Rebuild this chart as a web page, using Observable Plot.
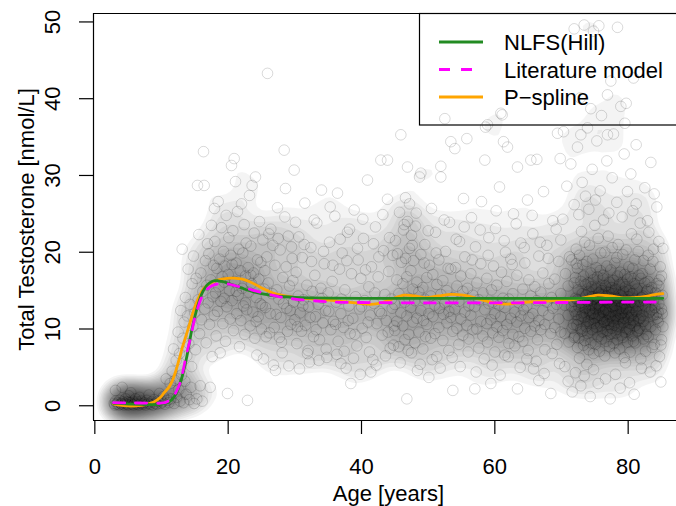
<!DOCTYPE html>
<html><head><meta charset="utf-8">
<script src="https://cdn.jsdelivr.net/npm/d3@7"></script>
<script src="https://cdn.jsdelivr.net/npm/@observablehq/plot@0.6"></script>
<style>
body{margin:0;background:#fff;}
#wrap{position:relative;width:676px;height:506px;font-family:"Liberation Sans",Arial,Helvetica,sans-serif;}
#wrap svg{display:block;}
</style></head><body><div id="wrap"></div>
<script>
// ---- axis ticks / labels ----
const xTicks = [0, 20, 40, 60, 80];
const yTicks = [0, 10, 20, 30, 40, 50];
const xTitle = "Age [years]";
const yTitle = "Total Testosterone [nmol/L]";
const seriesNames = ["NLFS(Hill)", "Literature model", "P\u2212spline"];
const seriesColors = ["#228B22", "#FF00FF", "#FFA500"];

// ---- fitted curves ----
const hillAge = [2.8,4,5.5,7,9,10,10.5,11,11.5,12,12.5,13,13.5,14,14.5,15,15.5,16,16.5,17,17.5,18,18.5,19,19.5,20,21,22,23,24,25,26,27,28.5,30,32,35,40,50,60,70,80,85.2];
const hillTT  = [0.33,0.28,0.2,0.17,0.16,0.22,0.3,0.45,0.75,1.3,2.2,3.5,5.2,7.3,9.7,11.6,13.2,14.5,15.3,15.85,16.15,16.3,16.28,16.2,16.1,15.95,15.65,15.35,15.05,14.8,14.6,14.45,14.32,14.2,14.12,14.06,14.02,14.0,14.0,14.0,14.0,14.0,14.0];
const litAge = [2.8,5,8,9.8,10.5,11,11.6,12.2,12.85,13.2,13.6,14,14.35,14.7,15.1,15.5,15.85,16.35,16.85,17.5,18.35,19.2,20.1,21.2,22.35,23.5,25,27.4,30,33.4,36,40,50,60,70,80,85.2];
const litTT  = [0.4,0.37,0.35,0.33,0.4,0.6,0.95,1.8,3.1,4.4,6.1,7.6,8.8,10.3,11.8,12.9,13.8,14.6,15.2,15.6,15.85,15.9,15.85,15.6,15.4,15.1,14.75,14.25,13.9,13.65,13.5,13.45,13.4,13.4,13.45,13.5,13.5];
const splAge = [2.8,4,5.5,7,8,8.85,9.85,10.4,11.1,11.6,12.1,12.6,13.1,13.6,14.1,14.6,15.1,15.7,16.35,17.1,17.85,18.8,19.85,20.8,21.6,22.5,23.4,24.5,25.9,27,28.5,30,32,34.4,36,38,40,41.4,43,44.5,46.4,48,49.4,51.5,53.4,55.3,56.9,58.5,60.4,62,63.4,65.5,67.9,69.5,71.5,73.5,75.4,77.3,79.35,81,82.35,83.8,85.2];
const splTT  = [0.25,0.05,-0.05,0.05,0.25,0.5,1.1,1.7,2.4,3.2,4.4,5.9,7.5,8.9,10.3,11.8,13.1,14.3,15.3,15.85,16.2,16.45,16.6,16.62,16.55,16.4,16.1,15.6,15.0,14.6,14.3,14.1,13.95,13.8,13.7,13.5,13.3,13.2,13.4,13.9,14.4,14.3,14.1,14.3,14.5,14.4,14.1,13.7,13.3,13.25,13.4,13.55,13.65,13.75,13.8,14.1,14.4,14.3,14.05,14.1,14.2,14.45,14.6];

const kidsPts = [[2.9,0.3],[3.0,0.1],[3.1,0.6],[3.1,2.0],[3.3,0.2],[3.4,0.4],[3.6,0.1],[3.7,0.7],[3.9,0.3],[4.0,0.2],[4.1,2.4],[4.2,0.5],[4.4,0.1],[4.5,0.3],[4.6,0.9],[4.8,0.2],[4.9,0.5],[5.0,0.1],[5.1,1.3],[5.3,0.4],[5.4,1.7],[5.5,0.2],[5.7,0.6],[5.8,0.1],[6.0,0.3],[6.1,0.9],[6.3,0.2],[6.4,0.5],[6.6,0.1],[6.7,1.1],[6.9,0.3],[7.0,0.6],[7.2,0.2],[7.4,0.4],[7.6,0.1],[7.8,0.7],[8.0,0.3],[8.1,1.4],[8.3,0.2],[8.5,0.5],[8.7,0.1],[8.9,0.8],[9.1,0.3],[9.3,0.2],[9.5,0.6],[9.7,1.6],[9.9,0.3],[10.1,0.5],[10.3,1.2],[10.5,0.2],[10.7,3.5],[10.9,0.7]];
const teenPts = [[11.1,0.4],[11.3,2.9],[11.4,0.9],[11.6,4.5],[11.8,7.4],[11.9,0.3],[12.0,3.3],[12.2,5.9],[12.3,1.1],[12.4,3.5],[12.5,9.6],[12.6,2.1],[12.7,6.8],[12.8,0.6],[12.9,12.4],[13.0,4.0],[13.1,20.4],[13.2,8.8],[13.3,0.4],[13.4,10.9],[13.5,3.2],[13.6,14.1],[13.7,1.5],[13.8,6.5],[13.9,11.7],[14.0,17.8],[14.1,8.1],[14.2,0.8],[14.3,13.2],[14.4,2.4],[14.5,5.1],[14.6,15.9],[14.7,10.3],[14.8,19.5],[14.9,0.3],[15.0,12.1],[15.1,7.3],[15.2,16.6],[15.3,0.9],[15.4,28.7],[15.5,13.8],[15.6,22.3],[15.7,9.4],[15.8,2.6],[15.9,17.3],[16.0,11.2],[16.1,0.6],[16.2,14.9],[16.3,33.1],[16.4,28.7],[16.5,12.6],[16.6,18.9],[16.7,8.2],[16.8,15.7],[16.9,21.1],[17.0,13.4],[17.1,19.8],[17.2,10.6],[17.3,2.4],[17.4,16.4],[17.5,23.5],[17.6,6.4],[17.7,14.2],[17.8,18.3],[17.9,11.8],[17.95,25.7]];
const youngPts = [[18.0,21.4],[18.1,14.7],[18.2,9.1],[18.3,17.9],[18.4,12.3],[18.5,26.6],[18.6,15.5],[18.7,19.1],[18.8,6.9],[18.9,13.6],[19.0,23.2],[19.1,16.8],[19.2,10.7],[19.3,20.1],[19.4,14.0],[19.4,16.1],[19.5,18.2],[19.6,8.4],[19.7,24.8],[19.8,12.9],[19.9,1.6],[20.0,17.1],[20.1,21.9],[20.2,15.0],[20.3,11.3],[20.4,19.6],[20.5,31.3],[20.6,13.7],[20.6,18.4],[20.7,22.8],[20.8,9.8],[20.9,32.2],[21.0,16.2],[21.1,29.2],[21.2,18.6],[21.2,14.9],[21.3,12.0],[21.4,25.3],[21.5,14.4],[21.6,20.4],[21.7,7.7],[21.8,17.6],[21.9,11.1],[22.0,26.3],[22.1,15.3],[22.2,19.9],[22.3,13.0],[22.4,23.6],[22.5,9.3],[22.6,16.9],[22.6,13.4],[22.7,21.2],[22.8,12.5],[22.9,0.7],[23.0,18.0],[23.1,14.8],[23.2,27.4],[23.3,10.4],[23.4,20.8],[23.4,17.0],[23.5,15.9],[23.6,28.7],[23.7,12.2],[23.8,17.3],[23.9,22.5],[24.0,8.8],[24.1,29.8],[24.2,14.1],[24.2,11.0],[24.3,6.6],[24.4,19.0],[24.5,11.6],[24.6,16.5],[24.7,24.0],[24.8,13.3],[24.9,18.7],[25.0,10.0],[25.1,13.1],[25.2,21.6],[25.4,15.2],[25.5,17.6],[25.6,12.8],[25.7,9.0],[25.8,19.4],[25.9,43.3],[26.0,16.0],[26.2,9.5],[26.3,12.0],[26.4,23.0],[26.6,14.6],[26.7,20.9],[26.8,5.3],[26.9,10.2],[27.0,18.3],[27.2,11.9],[27.3,15.1],[27.4,25.8],[27.6,13.9],[27.7,8.9],[27.8,20.3],[27.9,11.5],[28.0,8.3],[28.2,16.7],[28.3,13.3],[28.4,33.3],[28.6,28.3],[28.7,18.1],[28.8,12.7],[28.9,9.7],[29.0,22.1],[29.2,15.6],[29.3,12.4],[29.4,10.6],[29.6,19.2],[29.7,16.3],[29.8,13.5],[29.9,30.7]];
const midPts = [[30.0,11.2],[30.2,17.4],[30.3,8.1],[30.4,10.3],[30.5,14.3],[30.6,22.0],[30.8,12.1],[31.0,9.7],[31.1,19.3],[31.2,13.0],[31.3,13.8],[31.5,26.4],[31.6,10.5],[31.8,15.7],[32.0,7.2],[32.1,12.9],[32.2,5.7],[32.3,11.5],[32.4,20.6],[32.6,14.9],[32.8,9.0],[33.0,17.0],[33.1,11.6],[33.2,9.9],[33.3,23.8],[33.5,13.2],[33.7,8.6],[33.9,15.3],[34.0,28.1],[34.1,14.0],[34.2,10.8],[34.4,18.5],[34.6,12.4],[34.8,6.3],[35.0,14.7],[35.1,12.3],[35.2,21.3],[35.4,9.9],[35.6,16.2],[35.8,11.0],[36.0,24.7],[36.1,10.6],[36.2,13.5],[36.4,27.7],[36.5,8.4],[36.7,17.8],[36.9,12.0],[36.9,5.5],[37.0,13.9],[37.1,19.9],[37.3,10.2],[37.5,15.1],[37.7,4.9],[37.9,22.6],[38.0,11.1],[38.1,13.0],[38.3,9.4],[38.4,2.9],[38.5,17.2],[38.7,11.4],[38.9,25.5],[39.0,9.3],[39.1,14.2],[39.3,7.8],[39.5,19.0],[39.7,12.6],[39.9,16.6],[40.0,12.9],[40.1,10.1],[40.3,21.8],[40.5,13.7],[40.7,8.9],[40.9,29.4],[41.0,10.9],[41.1,15.5],[41.3,11.8],[41.4,4.4],[41.5,18.1],[41.7,6.0],[41.9,13.3],[42.0,14.7],[42.1,23.3],[42.3,10.7],[42.5,16.8],[42.7,12.3],[42.9,32.0],[43.0,12.0],[43.1,9.2],[43.3,20.2],[43.5,14.5],[43.7,11.1],[43.9,26.9],[43.9,32.0],[44.0,9.6],[44.1,17.5],[44.3,7.5],[44.5,13.9],[44.6,12.7],[44.7,19.6],[44.9,10.4]];
const olderPts = [[45.0,13.2],[45.0,9.8],[45.1,21.5],[45.3,16.4],[45.3,11.0],[45.6,7.7],[45.6,14.6],[45.7,25.2],[45.9,12.1],[45.9,35.3],[46.0,18.7],[46.2,10.4],[46.2,15.9],[46.3,22.9],[46.5,8.6],[46.5,13.5],[46.6,19.2],[46.6,27.1],[46.8,11.7],[46.8,16.8],[46.8,0.9],[46.9,24.0],[46.9,31.1],[47.1,14.0],[47.1,9.3],[47.2,20.5],[47.2,26.3],[47.4,12.8],[47.4,17.6],[47.5,6.9],[47.5,22.2],[47.7,10.9],[47.7,15.2],[47.8,18.9],[48.0,13.7],[48.0,8.2],[48.1,23.4],[48.3,11.4],[48.3,16.1],[48.4,4.6],[48.6,14.8],[48.6,9.6],[48.7,29.8],[48.9,12.4],[48.9,19.7],[48.9,30.3],[49.2,7.4],[49.2,15.4],[49.3,11.1],[49.5,13.9],[49.5,21.0],[49.6,9.0],[49.8,16.7],[49.8,10.6],[50.1,12.0],[50.1,3.7],[50.2,18.3],[50.4,14.3],[50.4,8.8],[50.5,25.7],[50.7,11.6],[50.7,17.1],[51.0,13.1],[51.0,9.4],[51.1,22.6],[51.3,15.8],[51.3,6.4],[51.6,10.2],[51.6,19.0],[51.7,12.7],[51.9,14.5],[51.9,31.2],[51.9,29.8],[52.2,8.5],[52.2,16.3],[52.3,11.9],[52.5,13.4],[52.5,37.4],[52.6,20.1],[52.8,10.8],[52.8,15.0],[53.1,12.3],[53.1,7.2],[53.2,23.9],[53.4,17.8],[53.4,11.5],[53.4,34.4],[53.7,9.7],[53.7,14.1],[53.7,2.0],[54.0,12.6],[54.0,33.5],[54.1,18.0],[54.3,10.1],[54.3,15.6],[54.6,13.6],[54.6,8.0],[54.7,21.4],[54.9,11.3],[54.9,16.9],[55.2,14.9],[55.2,9.2],[55.3,27.0],[55.5,12.2],[55.5,19.4],[55.8,10.5],[55.8,34.8],[55.9,15.3],[56.1,8.7],[56.1,13.0],[56.4,17.2],[56.4,11.8],[56.5,24.5],[56.7,9.9],[56.7,14.4],[57.0,12.9],[57.0,2.2],[57.1,20.7],[57.3,10.0],[57.3,16.0],[57.6,13.8],[57.6,7.5],[57.9,11.0],[57.9,18.5],[58.0,26.6],[58.2,9.1],[58.2,14.7],[58.5,12.5],[58.5,32.0],[58.6,36.3],[58.8,10.7],[58.8,16.6],[58.9,8.3],[58.9,36.6],[59.1,13.3],[59.1,21.9],[59.4,11.2],[59.4,2.9],[59.5,15.1],[59.7,9.5],[59.7,13.5],[59.8,18.2],[60.0,12.0],[60.0,7.0],[60.1,23.1],[60.3,10.3],[60.3,15.7],[60.6,13.1],[60.6,8.9],[60.7,28.5],[60.9,11.6],[60.9,38.1],[61.0,17.4],[61.2,9.8],[61.2,14.0],[61.1,37.9],[61.3,34.4],[61.5,12.8],[61.5,6.6],[61.6,20.0],[61.8,10.6],[61.8,16.2],[61.9,33.7],[62.1,13.9],[62.1,8.1],[62.4,11.4],[62.4,19.1],[62.7,9.3],[62.7,14.6],[62.8,25.0],[63.0,12.2],[63.0,7.8],[63.3,10.9],[63.3,17.0],[63.4,2.2],[63.4,31.1],[63.6,13.4],[63.6,9.0],[63.9,11.7],[63.9,21.2],[64.2,15.2],[64.2,8.4],[64.3,12.5],[64.5,10.1],[64.5,18.6],[64.8,13.0],[64.8,6.1],[64.9,26.8],[65.1,11.5],[65.1,16.4],[65.4,14.3],[65.4,9.7],[65.4,32.0],[65.7,12.0],[65.7,22.4],[65.8,4.8],[66.0,10.4],[66.0,15.5],[66.3,13.7],[66.3,32.1],[66.4,8.6],[66.6,11.1],[66.6,19.5],[66.6,3.3],[66.9,14.8],[66.9,9.9],[67.2,12.4],[67.2,17.3],[67.3,27.9],[67.5,10.6],[67.5,7.3],[67.8,13.5],[67.8,20.9],[68.1,11.8],[68.1,15.9],[68.4,9.4],[68.4,1.6],[68.5,14.1],[68.7,12.7],[68.7,24.1],[69.0,16.5],[69.0,10.2],[69.3,13.2],[69.3,8.0],[69.4,35.5],[69.6,11.3],[69.6,18.8],[69.8,32.2],[69.9,14.6],[69.9,9.6],[69.9,21.6]];
const adultExtra = [[25.3,6.1],[26.1,22.4],[27.1,4.6],[27.5,21.8],[28.1,6.9],[28.5,24.6],[29.1,5.2],[29.5,20.7],[30.1,23.9],[30.7,4.8],[31.4,21.0],[31.9,6.8],[32.5,18.8],[32.9,24.2],[33.6,5.9],[34.3,20.1],[34.7,7.4],[35.3,25.9],[35.7,18.3],[36.3,6.7],[36.8,21.7],[37.4,7.1],[37.8,18.9],[38.2,23.0],[38.8,6.2],[39.4,20.5],[39.8,4.1],[40.2,24.3],[40.6,17.7],[41.2,7.0],[41.8,21.1],[42.2,5.3],[42.6,19.4],[43.2,24.9],[43.6,6.5],[44.2,21.9],[44.8,7.9],[45.4,19.8],[45.8,5.6],[46.4,23.6],[47.0,7.2],[47.6,20.9],[48.2,25.1],[48.8,5.4],[49.4,18.6],[50.0,22.8],[50.6,6.0],[51.2,19.9],[51.8,4.9],[52.4,24.2],[53.0,17.9],[53.6,6.3],[54.2,21.7],[54.8,5.1],[55.4,23.3],[56.0,7.0],[56.6,19.0],[57.2,4.4],[57.8,22.9],[58.4,6.1],[59.0,19.6],[59.6,5.3],[60.2,25.4],[60.8,4.0],[61.4,21.5],[62.0,6.4],[62.6,18.4],[63.2,23.7],[63.8,5.0],[64.4,20.6],[65.0,7.2],[65.6,24.8],[66.2,5.8],[66.8,21.3],[67.4,4.2],[68.0,19.2],[68.6,6.8],[69.2,23.0],[69.7,5.5]];
const seniorPts = [[70.2,24.3],[70.3,35.7],[70.5,5.1],[70.8,28.6],[71.0,3.2],[71.2,19.4],[71.4,31.5],[71.6,1.8],[71.9,26.2],[71.9,49.1],[72.1,4.3],[72.4,33.7],[72.6,24.9],[72.8,40.1],[72.9,2.6],[72.9,35.3],[73.1,29.1],[73.4,3.9],[73.4,49.6],[73.6,27.3],[73.9,36.2],[74.1,25.6],[74.3,1.2],[74.4,38.7],[74.6,30.8],[74.8,4.7],[74.8,48.8],[75.1,26.8],[75.3,34.5],[75.5,2.9],[75.6,49.5],[75.8,28.0],[76.0,37.8],[76.3,24.2],[76.6,3.5],[76.8,31.9],[76.9,35.3],[76.9,40.5],[77.1,25.1],[77.3,0.9],[77.4,42.3],[77.6,29.7],[77.8,35.4],[78.1,4.1],[78.3,26.5],[78.4,49.3],[78.8,2.3],[78.9,39.0],[79.1,24.6],[79.4,32.8],[79.5,36.8],[79.6,5.6],[79.7,39.4],[79.9,27.9],[80.2,3.0],[80.4,30.2],[80.7,25.4],[80.8,42.7],[80.9,1.5],[81.2,34.0],[81.4,9.7],[81.5,20.1],[81.7,13.6],[81.8,23.8],[81.9,6.1],[82.1,17.2],[82.2,14.3],[82.3,11.0],[82.5,28.4],[82.6,7.1],[82.7,9.3],[82.9,15.1],[83.0,19.6],[83.1,22.6],[83.3,4.4],[83.4,31.7],[83.5,12.5],[83.7,18.8],[83.8,11.8],[83.9,8.0],[84.1,14.7],[84.2,5.2],[84.3,25.9],[84.5,10.9],[84.6,21.4],[84.7,16.4],[84.9,3.1],[85.0,8.6],[85.1,12.0],[85.2,20.5]];
const lateExtra = [[81.1,8.2],[81.3,21.7],[81.5,13.0],[81.7,10.1],[81.9,16.6],[82.1,11.8],[82.3,18.9],[82.4,13.7],[82.6,10.4],[82.8,14.9],[83.0,9.0],[83.2,12.2],[83.3,17.8],[83.5,15.4],[83.6,7.6],[83.8,20.4],[84.0,12.8],[84.1,9.9],[84.3,15.9],[84.4,11.4],[84.6,13.3],[84.8,18.1],[84.9,7.9],[85.1,14.4],[85.2,10.3],[81.2,26.3],[82.0,4.9],[82.9,24.1],[83.9,27.6],[84.7,6.4],[81.6,11.2],[82.5,16.0],[83.1,13.9],[84.5,12.2],[85.0,16.9]];
const seniorCore = [[70.5,13.1],[70.5,9.4],[70.6,17.2],[71.0,11.8],[71.0,15.6],[71.1,8.3],[71.5,12.9],[71.5,19.0],[71.6,10.1],[71.8,13.6],[71.8,10.6],[71.9,16.0],[71.9,8.9],[72.0,12.3],[72.0,9.1],[72.1,16.7],[72.1,14.0],[72.2,20.4],[72.2,18.5],[72.2,11.9],[72.3,10.5],[72.4,13.8],[72.4,7.6],[72.4,17.9],[72.5,11.2],[72.5,15.1],[72.6,8.8],[72.6,12.9],[72.7,19.6],[72.7,6.2],[72.8,13.4],[72.9,10.0],[72.9,16.2],[73.0,22.7],[73.0,11.7],[73.1,9.7],[73.1,14.6],[73.2,12.1],[73.2,18.4],[73.3,7.9],[73.3,16.9],[73.4,11.5],[73.4,13.2],[73.5,8.5],[73.5,21.3],[73.6,12.7],[73.6,15.8],[73.7,10.3],[73.7,14.4],[73.8,5.4],[73.8,18.8],[73.9,9.4],[73.9,13.6],[74.0,11.0],[74.0,16.0],[74.1,14.9],[74.1,7.3],[74.2,12.4],[74.2,20.9],[74.3,10.8],[74.3,11.9],[74.4,17.3],[74.4,8.2],[74.5,13.1],[74.5,15.5],[74.6,9.9],[74.6,14.2],[74.7,19.1],[74.7,12.0],[74.8,6.8],[74.8,16.4],[74.9,10.7],[74.9,13.9],[75.0,23.5],[75.0,11.4],[75.1,12.6],[75.1,8.0],[75.2,15.3],[75.2,18.0],[75.3,14.1],[75.3,10.2],[75.4,13.3],[75.4,16.8],[75.5,9.0],[75.5,21.8],[75.6,14.7],[75.6,11.8],[75.7,7.1],[75.7,12.8],[75.8,17.6],[75.8,13.0],[75.9,19.9],[75.9,10.4],[76.0,15.0],[76.0,8.7],[76.1,11.3],[76.1,14.5],[76.2,9.6],[76.2,16.6],[76.3,12.2],[76.3,17.0],[76.4,10.9],[76.4,13.7],[76.5,6.5],[76.5,20.0],[76.6,12.5],[76.6,15.6],[76.7,8.4],[76.7,14.3],[76.8,11.1],[76.8,18.2],[76.9,9.8],[76.9,13.5],[77.0,22.1],[77.0,10.6],[77.1,14.8],[77.1,12.0],[77.2,7.7],[77.2,16.1],[77.3,11.6],[77.3,9.3],[77.4,13.9],[77.4,17.7],[77.5,10.1],[77.5,15.4],[77.6,12.9],[77.6,20.6],[77.7,11.0],[77.7,14.6],[77.8,8.1],[77.8,16.3],[77.9,10.5],[77.9,13.1],[78.0,18.6],[78.0,6.9],[78.1,11.7],[78.1,15.2],[78.2,9.5],[78.2,12.4],[78.3,19.3],[78.3,14.0],[78.4,8.6],[78.4,16.9],[78.5,11.3],[78.5,21.0],[78.6,10.3],[78.6,13.6],[78.7,7.4],[78.7,15.8],[78.8,12.7],[78.8,17.4],[78.9,11.9],[78.9,14.4],[79.0,9.2],[79.0,13.0],[79.1,12.1],[79.1,16.0],[79.2,8.9],[79.2,19.7],[79.3,10.8],[79.3,14.9],[79.4,11.4],[79.4,6.3],[79.5,13.3],[79.5,17.1],[79.6,9.6],[79.6,15.5],[79.7,12.6],[79.7,20.3],[79.8,10.0],[79.8,13.8],[79.9,8.3],[79.9,16.5],[80.0,11.5],[80.0,14.2],[80.1,12.2],[80.1,18.1],[80.2,9.9],[80.2,15.0],[80.3,7.0],[80.3,10.7],[80.4,13.5],[80.4,16.8],[80.5,11.8],[80.5,22.4],[80.6,14.6],[80.6,9.1],[80.7,12.8],[80.7,17.9],[80.8,8.4],[80.8,11.2],[80.9,15.9],[80.9,13.4],[81.0,10.4],[81.0,19.0],[81.2,12.3],[81.3,15.2],[81.5,9.8],[81.6,17.0],[81.8,11.4],[82.0,14.1],[82.3,8.7],[82.6,12.9],[83.0,16.2],[83.4,10.3],[83.8,13.7],[84.2,11.9],[84.6,15.6],[85.0,12.6]];

// ---- build ----
const allPts = [...kidsPts, ...teenPts, ...youngPts, ...midPts, ...olderPts, ...adultExtra, ...seniorPts, ...lateExtra, ...seniorCore];
const toRows = (ages, vals) => ages.map((a, i) => ({age: a, tt: vals[i]}));
const hill = toRows(hillAge, hillTT), lit = toRows(litAge, litTT), spl = toRows(splAge, splTT);

const FONT = "Liberation Sans, Arial, Helvetica, sans-serif";
const xDom = [-0.2, 87.25], yDom = [-1.92, 51.1];
const densityLevels = d3.range(0.3, 4.2, 0.1);

const chart = Plot.plot({
  width: 676, height: 506,
  marginLeft: 93, marginRight: 0, marginTop: 13, marginBottom: 86,
  x: {domain: xDom},
  y: {domain: yDom},
  style: {fontFamily: FONT, fontSize: "22px", color: "black", background: "white"},
  marks: [
    Plot.density(allPts, {x: d => d[0], y: d => d[1], bandwidth: 10, thresholds: densityLevels, fill: "black", fillOpacity: 0.045, stroke: "none", clip: true}),
    Plot.dot(allPts, {x: d => d[0], y: d => d[1], r: 5.3, fill: "none", stroke: "black", strokeOpacity: 0.15, strokeWidth: 1, clip: true}),
    Plot.line(spl, {x: "age", y: "tt", stroke: seriesColors[2], strokeWidth: 2.8, curve: "catmull-rom"}),
    Plot.line(hill, {x: "age", y: "tt", stroke: seriesColors[0], strokeWidth: 2.8, curve: "catmull-rom"}),
    Plot.line(lit, {x: "age", y: "tt", stroke: seriesColors[1], strokeWidth: 2.8, strokeDasharray: "11,11", curve: "catmull-rom"}),
    Plot.ruleX([xDom[0]], {stroke: "black", strokeWidth: 1.2}),
    Plot.ruleY([yDom[0], yDom[1]], {stroke: "black", strokeWidth: 1.2}),
    Plot.axisX({ticks: xTicks, tickSize: 14, tickFormat: () => "", label: null, strokeWidth: 1.2}),
    Plot.axisY({ticks: yTicks, tickSize: 14, tickFormat: () => "", label: null, strokeWidth: 1.2}),
    Plot.text(xTicks, {x: d => d, frameAnchor: "bottom", textAnchor: "middle", lineAnchor: "middle", dy: 46, text: d => String(d), fontSize: 22, fill: "black"}),
    Plot.text(yTicks, {y: d => d, frameAnchor: "left", textAnchor: "middle", lineAnchor: "middle", dx: -41, rotate: -90, text: d => String(d), fontSize: 22, fill: "black"}),
    Plot.text([xTitle], {frameAnchor: "bottom", textAnchor: "middle", lineAnchor: "middle", dx: 3.5, dy: 73, text: d => d, fontSize: 22, fill: "black"}),
    Plot.text([yTitle], {frameAnchor: "left", textAnchor: "middle", lineAnchor: "middle", dx: -67, dy: 2.5, rotate: -90, text: d => d, fontSize: 22, fill: "black"})
  ]
});

const wrap = document.getElementById("wrap");
wrap.appendChild(chart);

// legend (drawn over the plot, transparent background like R's legend)
const lg = d3.create("svg").attr("width", 676).attr("height", 506)
  .style("position", "absolute").style("left", "0px").style("top", "0px").style("pointer-events", "none");
lg.append("rect").attr("x", 419.5).attr("y", 13.5).attr("width", 300).attr("height", 111.5)
  .attr("fill", "none").attr("stroke", "black").attr("stroke-width", 1.2);
seriesNames.forEach((name, i) => {
  const y = 42 + i * 27.5;
  lg.append("line").attr("x1", 439).attr("x2", 483).attr("y1", y).attr("y2", y)
    .attr("stroke", seriesColors[i]).attr("stroke-width", 2.8)
    .attr("stroke-dasharray", i === 1 ? "11,11" : null);
  lg.append("text").attr("x", 504).attr("y", y + 8).text(name)
    .attr("font-family", FONT).attr("font-size", 22).attr("fill", "black");
});
wrap.appendChild(lg.node());
</script></body></html>
